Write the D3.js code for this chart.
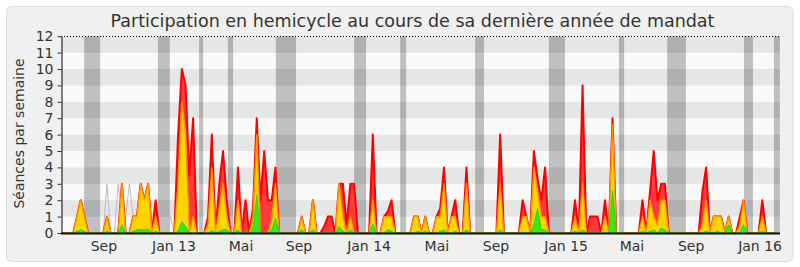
<!DOCTYPE html>
<html><head><meta charset="utf-8">
<script src="https://cdn.jsdelivr.net/npm/d3@7"></script>
<style>
body{margin:0;background:#fff}
svg{display:block}
text{font-family:"DejaVu Sans",Verdana,sans-serif;fill:#333}
</style>
</head><body>
<svg id="c" width="800" height="267"></svg>
<script>
const chartTitle = "Participation en hemicycle au cours de sa dernière année de mandat";
const yTitle = "Séances par semaine";
const yTicks = [0,1,2,3,4,5,6,7,8,9,10,11,12];
const xLabels = ["Sep","Jan 13","Mai","Sep","Jan 14","Mai","Sep","Jan 15","Mai","Sep","Jan 16"];
const xLabelWeeks = [11.2,29.9,47.8,63.3,82.0,100.1,115.9,134.6,152.2,168.0,186.4];
// vacation periods (week index ranges)
const vacances = [[5.9,10.2],[25.6,28.8],[36.6,37.7],[44.3,45.7],[57.1,62.5],[78.0,81.2],[90.3,91.9],[110.3,112.7],[130.0,134.3],[148.7,150.1],[161.6,166.6],[182.1,184.5],[190.1,191.7]];

// weekly values, week 0..191
const seances = [
0,0,0,0,0,0,0,0, 0,0,0,0,3,0,0,3,
1,1,3,1,0,0,0,0, 0,0,0,0,0,1,0,0,
0,0,0,0,0,0,0,0, 0,0,0,0,0,0,0,0,
0,0,0,0,0,0,0,0, 0,0,0,0,0,0,0,0,
0,0,0,0,0,0,0,0, 0,0,0,0,0,0,0,0,
0,0,0,0,0,0,0,0, 0,0,0,0,0,0,0,0,
0,0,0,0,0,0,0,0, 0,0,0,0,0,0,0,0,
0,0,0,0,0,0,0,0, 0,0,0,0,0,0,0,0,
0,0,0,0,0,0,0,0, 0,0,0,0,0,0,0,0,
0,0,0,0,0,0,0,0, 0,0,0,0,0,0,0,0,
0,0,0,0,0,0,0,0, 0,0,0,0,0,0,0,0,
0,0,0,0,0,0,0,0, 0,0,0,0,0,0,0,0];
const presences = [
0,0,0,0,1,2,1,0, 0,0,0,0,1,0,0,0,
3,0,0,1,1,3,2,3, 0,2,0,0,0,0,0,6,
10,9,3.5,7,0,0,0,1, 6,0,3,5,2,0,0,4,
0,2,0,1.5,7,2,5,2, 2,4,0,0,0,0,0,0,
1,0,0,2,0,0,0.4,1, 1,0,3,3,0.5,3,3,0,
0,0,0,6,0,0,1,1.3, 2,0,0,0,0,0,1,1,
0,1,0,0,1,1.5,4,0, 1,2,0,0,4,0,0,0,
0,0,0,0,0,6,0,0, 0,0,0,2,1,0,5,3.3,
2,4,0,0,0,0,0,0, 0,2,0,9,0,1,1,1,
0,2,0,7,0,0,0,0, 0,0,0,2,0,2.5,5,2,
3,3,0,0,0,0,0,0, 0,0,0,2.5,4,0,1,1,
1,0,1,0,0,1,2,0, 0,0,0,2,0,0,0,0];
const interventions = [
0,0,0,0,1,2,1,0, 0,0,0,0,1,0,0,0,
3,0,0,1,1,3,2,3, 0,1,0,0,0,0,0,3,
8,6,0,1,0,0,0,0.5, 4,0,1.5,3,1,0,0,2,
0,0,0,1,6,0,0,0, 0.8,3,0,0,0,0,0,0,
1,0,0,2,0,0,0,0, 0,0,3,1,0,1,0,0,
0,0,0,2,0,0,1,1, 1,0,0,0,0,0,1,1,
0,1,0,0,1,1,3,0, 1,1,0,0,3,0,0,0,
0,0,0,0,0,3,0,0, 0,0,0,1,1,0,4,2.5,
1,1,0,0,0,0,0,0, 0,1,0,3,0,0,0,0,
0,1,0,6.6,0,0,0,0, 0,0,0,1,0,2,1,0.5,
2,2,0,0,0,0,0,0, 0,0,0,0.5,2,0,1,1,
1,0,1,0,0,0.5,2,0, 0,0,0,1,0,0,0,0];
const questions = [
0,0,0,0,0.1,0.2,0.1,0, 0,0,0,0,0.1,0,0,0,
0.5,0,0,0.1,0.2,0.2,0.2,0.25, 0,0.1,0,0,0,0,0,0.1,
0.7,0.4,0,0,0,0,0,0, 0.15,0,0.1,0.2,0.2,0,0,0.2,
0,0,0,0.3,2.3,0,0,0, 0.2,0.9,0,0,0,0,0,0,
0.2,0,0,0.2,0,0,0,0, 0,0,0.4,0.1,0,0.2,0,0,
0,0,0,0.55,0,0,0,0.2, 0.1,0,0,0,0,0,0,0.1,
0,0.1,0,0,0,0.1,0.2,0, 0,0.1,0,0,0.2,0,0,0,
0,0,0,0,0,0.2,0,0, 0,0,0,0.05,0,0,0.5,1.5,
0.2,0.2,0,0,0,0,0,0, 0,0.1,0,0.2,0,0,0,0,
0,0,0,2.6,0,0,0,0, 0,0,0,0.1,0,0.1,0.2,0,
0.3,0.2,0,0,0,0,0,0, 0,0,0,0,0.1,0,0,0.1,
0,0,0.5,0,0,0,0.5,0, 0,0,0,0.1,0,0,0,0];

const svg = d3.select("#c");
const plotL = 61, plotR = 780;
const x = d3.scaleLinear().domain([0, 191]).range([62, 62 + 191 * 3.745]);
const y = d3.scaleLinear().domain([0, 12]).range([233, 36.2]);

// frame
svg.append("rect").attr("x", 6.5).attr("y", 6.5).attr("width", 786.5).attr("height", 255)
  .attr("rx", 5).attr("fill", "#f0f0f0").attr("stroke", "#dcdcdc");

// horizontal stripes
svg.append("g").selectAll("rect").data(d3.range(12)).join("rect")
  .attr("x", plotL).attr("width", plotR - plotL)
  .attr("y", k => y(k + 1)).attr("height", k => y(k) - y(k + 1))
  .attr("fill", k => k % 2 ? "#e6e6e6" : "#fafafa");

// vacation bands
svg.append("g").selectAll("rect").data(vacances).join("rect")
  .attr("x", d => x(d[0])).attr("width", d => x(d[1]) - x(d[0]))
  .attr("y", y(12)).attr("height", y(0) - y(12))
  .attr("fill", "#000").attr("fill-opacity", 0.23);

svg.append("clipPath").attr("id", "clip").append("rect")
  .attr("x", plotL).attr("y", y(12)).attr("width", plotR - plotL).attr("height", y(0) - y(12));
const g = svg.append("g").attr("clip-path", "url(#clip)");

const area = d3.area().x((d, i) => x(i)).y0(y(0)).y1(d => y(d));
const line = d3.line().x((d, i) => x(i)).y(d => y(d));

g.append("path").datum(seances).attr("d", line).attr("fill", "none").attr("stroke", "#bdbdbd").attr("stroke-width", 1);

const series = [
  {data: presences, fill: "#ff3a3a", stroke: "#ff0000", sw: 2},
  {data: interventions, fill: "#ffd500", stroke: "#ff9800", sw: 1.4},
  {data: questions, fill: "#38e81c", stroke: "#22d400", sw: 0.9}
];
series.forEach(s => {
  g.append("path").datum(s.data).attr("d", area).attr("fill", s.fill);
  g.append("path").datum(s.data).attr("d", line).attr("fill", "none")
    .attr("stroke", s.stroke).attr("stroke-width", s.sw).attr("stroke-linejoin", "round");
});

// top dotted line
svg.append("line").attr("x1", plotL).attr("x2", plotR).attr("y1", 36.5).attr("y2", 36.5)
  .attr("stroke", "#000").attr("stroke-dasharray", "1,2");

// y axis
const ya = svg.append("g").attr("transform", "translate(61.5,0)")
  .call(d3.axisLeft(y).tickValues(yTicks).tickSize(4).tickSizeOuter(0).tickPadding(4));
ya.select(".domain").attr("stroke", "#000");
ya.selectAll(".tick line").attr("stroke", "#333");
ya.selectAll(".tick text").attr("font-size", 14).attr("font-family", "DejaVu Sans").attr("fill", "#333");

// bottom axis line
svg.append("line").attr("x1", plotL).attr("x2", plotR).attr("y1", y(0) + 0.5).attr("y2", y(0) + 0.5)
  .attr("stroke", "#111").attr("stroke-width", 2);

// x labels
svg.append("g").selectAll("text").data(xLabels).join("text")
  .attr("x", (d, i) => x(xLabelWeeks[i])).attr("y", 251)
  .attr("text-anchor", "middle").attr("font-size", 14).text(d => d);

// titles
svg.append("text").attr("x", 412.5).attr("y", 26.5).attr("text-anchor", "middle")
  .attr("font-size", 17.5).text(chartTitle);
svg.append("text").attr("transform", "translate(24,133.5) rotate(-90)").attr("text-anchor", "middle")
  .attr("font-size", 14).text(yTitle);
</script>
</body></html>
